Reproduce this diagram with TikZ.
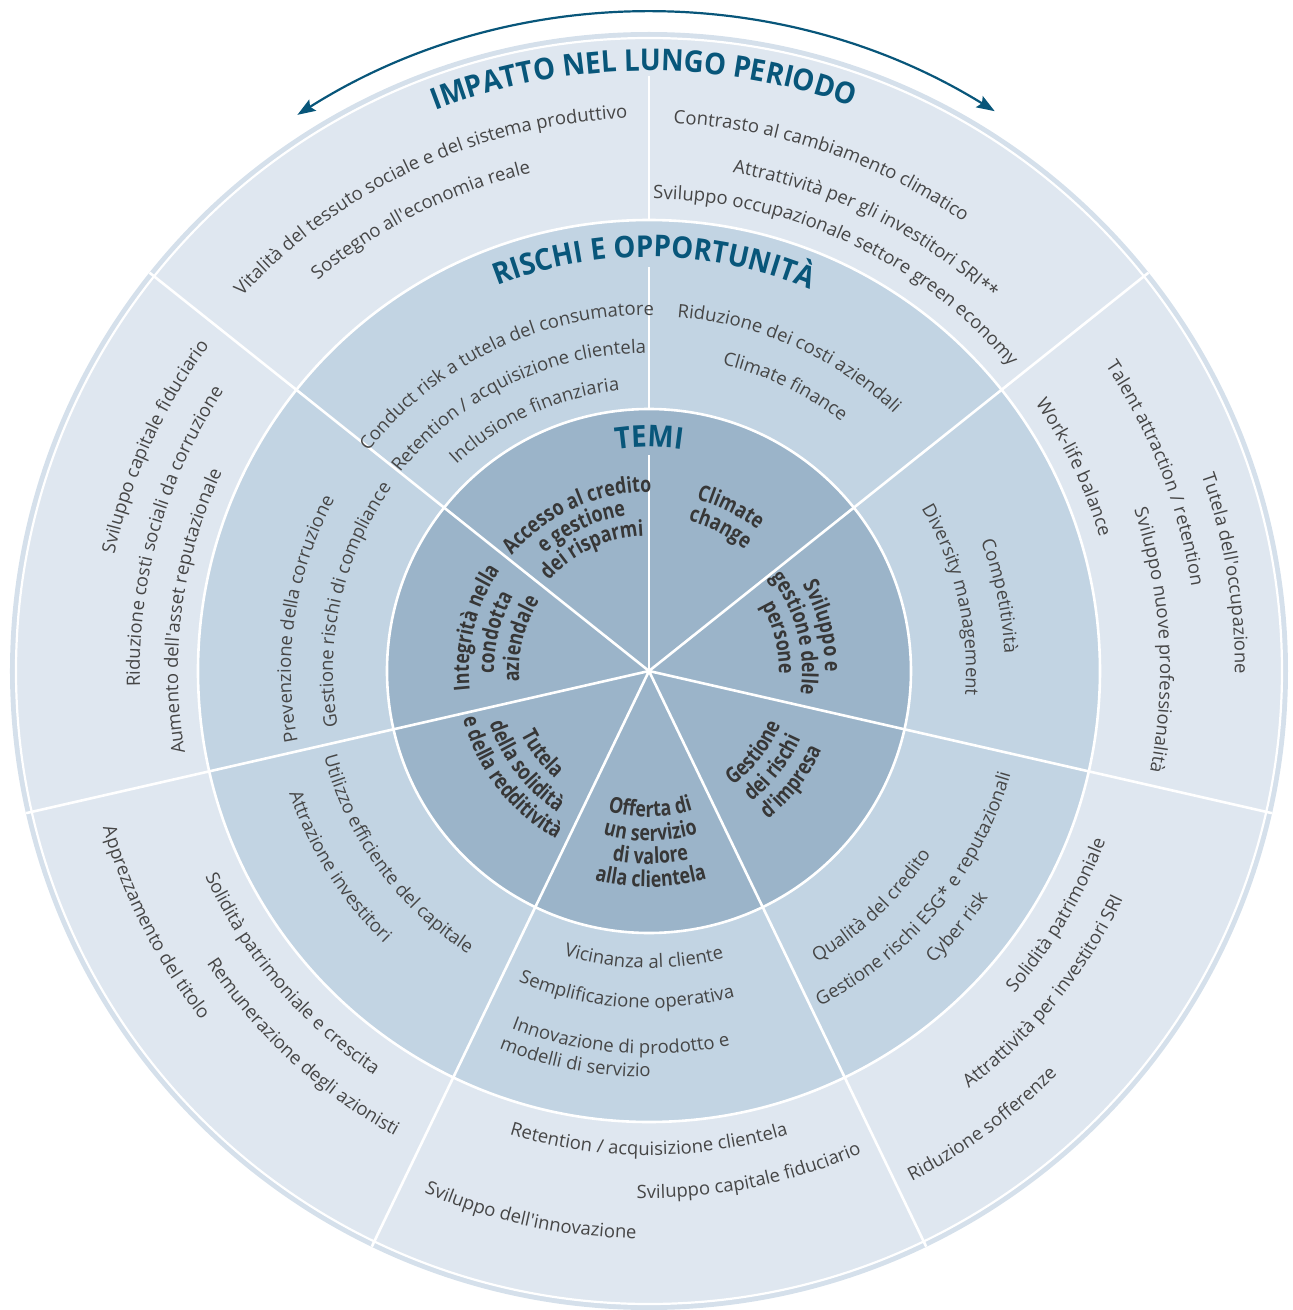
\documentclass[tikz,border=0pt]{standalone}
\usepackage{fontspec}
\setmainfont{Open Sans}[Ligatures=TeXOff]
\newfontfamily\titlefont{Open Sans}[FakeStretch=0.92,Ligatures=TeXOff]
\newfontfamily\themefont{Open Sans}[FakeStretch=0.81,Ligatures=TeXOff]
\usetikzlibrary{decorations.text,arrows.meta}
\definecolor{ringBand}{RGB}{213,224,235}
\definecolor{ringA}{RGB}{223,231,240}
\definecolor{ringB}{RGB}{194,212,227}
\definecolor{ringC}{RGB}{155,180,201}
\definecolor{titleblue}{RGB}{8,86,122}
\definecolor{bodygray}{RGB}{70,70,70}
\definecolor{themegray}{RGB}{55,55,55}
\newcommand{\bodyf}{\fontsize{18.5}{22}\selectfont}
\newcommand{\themef}{\themefont\bfseries\fontsize{22}{23}\selectfont}
\newcommand{\titlef}{\titlefont\bfseries\fontsize{30}{32}\selectfont}
% text on arc, tops outward (clockwise path)
\newcommand{\cwtext}[5]{\path[decorate,decoration={text along path,text align=center,text color=#3,text={|#4|#5}}] ({#2+80}:#1) arc[start angle={#2+80},end angle={#2-80},radius=#1];}
% text on arc, tops inward (counter-clockwise path)
\newcommand{\ccwtext}[5]{\path[decorate,decoration={text along path,text align=center,text color=#3,text={|#4|#5}}] ({#2-80}:#1) arc[start angle={#2-80},end angle={#2+80},radius=#1];}
\newcommand{\bodyout}[3]{\cwtext{#1}{#2}{bodygray}{\bodyf}{#3}}
\newcommand{\bodyin}[3]{\ccwtext{#1}{#2}{bodygray}{\bodyf}{#3}}
\newcommand{\themeout}[3]{\cwtext{#1}{#2}{themegray}{\themef}{#3}}
\newcommand{\themein}[3]{\ccwtext{#1}{#2}{themegray}{\themef}{#3}}
\tikzset{sep/.style={white,line width=2.6pt}}
\begin{document}
\begin{tikzpicture}[x=1pt,y=1pt]
\useasboundingbox (-649,-639) rectangle (644,671);
\coordinate (c) at (0,0);
% rings
\fill[ringBand] (c) circle[radius=639];
\fill[ringA] (c) circle[radius=633];
\fill[ringB] (c) circle[radius=451];
\fill[ringC] (c) circle[radius=262];
% radial separators
\foreach \a in {38.571,-12.857,-64.286,-115.714,-167.143,141.429}
  \draw[sep] (c) -- (\a:639);
\draw[sep] (c) -- (90:216);
\draw[sep] (90:262) -- (90:404);
\draw[sep] (90:451) -- (90:595);
\draw[white,line width=2.2pt] (c) circle[radius=633];
\draw[sep] (c) circle[radius=451];
\draw[sep] (c) circle[radius=262];
% arrow
\draw[titleblue,line width=2.2pt,{Stealth[length=18pt,width=13pt,inset=3pt]}-{Stealth[length=18pt,width=13pt,inset=3pt]}]
  (122.3:658) arc[start angle=122.3,end angle=58.3,radius=658];
% titles
\cwtext{600}{90.5}{titleblue}{\titlef}{IMPATTO NEL LUNGO PERIODO}
\cwtext{414}{89.3}{titleblue}{\titlef}{RISCHI E OPPORTUNITÀ}
\cwtext{224}{90}{titleblue}{\titlef}{TEMI}
% outer ring
\bodyout{553}{114.8}{Vitalità del tessuto sociale e del sistema produttivo}
\bodyout{512}{116.8}{Sostegno all'economia reale}
\bodyout{548}{71.2}{Contrasto al cambiamento climatico}
\bodyout{505}{63.9}{Attrattività per gli investitori SRI**}
\bodyout{472}{64.8}{Sviluppo occupazionale settore green economy}
\bodyout{586}{9.6}{Tutela dell'occupazione}
\bodyout{549}{21.3}{Talent attraction / retention}
\bodyout{511}{3.5}{Sviluppo nuove professionalità}
\bodyout{470}{25.6}{Work-life balance}
\bodyin{487}{-30.9}{Solidità patrimoniale}
\bodyin{526}{-39.1}{Attrattività per investitori SRI}
\bodyin{574}{-53.7}{Riduzione sofferenze}
\bodyin{484}{-90}{Retention / acquisizione clientela}
\bodyin{527}{-78.75}{Sviluppo capitale fiduciario}
\bodyin{568}{-102.3}{Sviluppo dell'innovazione}
\bodyin{568}{-153}{Apprezzamento del titolo}
\bodyin{489}{-139.7}{Solidità patrimoniale e crescita}
\bodyin{530}{-132.6}{Remunerazione degli azionisti}
\bodyout{547}{155.6}{Sviluppo capitale fiduciario}
\bodyout{509}{164.2}{Riduzione costi sociali da corruzione}
\bodyout{471}{172.5}{Aumento dell'asset reputazionale}
% middle ring
\bodyout{356}{115.6}{Conduct risk a tutela del consumatore}
\bodyout{318}{116}{Retention / acquisizione clientela}
\bodyout{282}{114.5}{Inclusione finanziaria}
\bodyout{355}{65.9}{Riduzione dei costi aziendali}
\bodyout{315}{64.4}{Climate finance}
\bodyout{356}{12}{Competitività}
\bodyout{317}{13.2}{Diversity management}
\bodyin{336}{-46.5}{Qualità del credito}
\bodyin{376}{-39.4}{Gestione rischi ESG* e reputazionali}
\bodyin{408}{-39.8}{Cyber risk}
\bodyin{297}{-91}{Vicinanza al cliente}
\bodyin{337}{-94}{Semplificazione operativa}
\bodyin{383}{-94.4}{Innovazione di prodotto e}
\bodyin{406}{-100.7}{modelli di servizio}
\bodyin{336}{-143.9}{Utilizzo efficiente del capitale}
\bodyin{380}{-147.7}{Attrazione investitori}
\bodyout{358}{171.4}{Prevenzione della corruzione}
\bodyout{316}{167.3}{Gestione rischi di compliance}
% themes
\themeout{179}{114.6}{Accesso al credito}
\themeout{157}{115}{e gestione}
\themeout{135}{115}{dei risparmi}
\themeout{178}{63.5}{Climate}
\themeout{155}{63.5}{change}
\themeout{176}{14.5}{Sviluppo e}
\themeout{153}{14.5}{gestione delle}
\themeout{130}{14.5}{persone}
\themein{142}{-38}{Gestione}
\themein{166}{-38}{dei rischi}
\themein{190}{-38}{d'impresa}
\themein{146}{-89.5}{Offerta di}
\themein{170}{-89.5}{un servizio}
\themein{193}{-89.5}{di valore}
\themein{216}{-89.5}{alla clientela}
\themein{143}{-142.3}{Tutela}
\themein{168}{-142.3}{della solidità}
\themein{192}{-142.3}{e della redditività}
\themeout{180}{166}{Integrità nella}
\themeout{155}{166}{condotta}
\themeout{130}{166}{aziendale}
\end{tikzpicture}
\end{document}
